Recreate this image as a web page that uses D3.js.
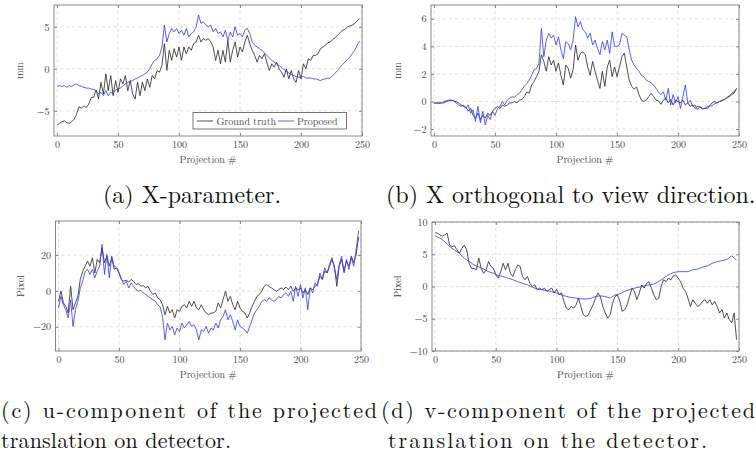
<!DOCTYPE html>
<meta charset="utf-8">
<style>
  body { margin: 0; background: #fff; }
  svg { display: block; }
  text { font-family: "Latin Modern Roman", "Liberation Serif", serif; }
  .tick text { fill: #444; font-size: 10px; font-family: "Latin Modern Roman", "Liberation Serif", serif; }
  .grid { stroke: #d6d6d6; stroke-width: 0.8; stroke-dasharray: 3,3; }
  .frame { fill: none; stroke: #888; stroke-width: 1; }
  .lbl { fill: #444; font-size: 10px; }
  .cap { fill: #111; font-size: 24px; }
  .cap.small { font-size: 22px; }
  .truth { fill: none; stroke: #222; stroke-width: 0.8; }
  .proposed { fill: none; stroke: #3434ff; stroke-width: 0.8; }
</style>
<svg width="756" height="453"></svg>
<script src="https://d3js.org/d3.v7.min.js"></script>
<script>

// projection numbers (every 2nd, and every 4th for the smooth curve)
var proj = d3.range(0, 249, 2);
var projCoarse = d3.range(0, 249, 4);
var xTicks = [0, 50, 100, 150, 200, 250];

// (a) X-parameter, mm
var aTruth = [-6.7,-6.5,-6.3,-6.2,-6.4,-6.5,-6.3,-6.0,-5.4,-4.5,
  -4.7,-4.4,-4.6,-4.2,-3.4,-3.4,-2.5,-3.6,-1.6,-3.0,
  -0.6,-2.6,-0.8,-3.2,-1.4,-2.8,-1.2,-1.8,-0.8,-2.6,
  -1.4,-3.0,-3.6,-1.6,-3.2,-1.6,-2.6,-1.2,-2.2,-0.8,
  -1.2,-0.2,-0.4,0.4,3.0,-0.2,2.2,1.0,2.4,1.4,
  2.6,1.0,2.6,1.8,2.6,2.2,3.0,3.2,4.0,3.2,
  3.6,3.4,3.6,3.2,2.6,1.0,2.2,0.6,2.2,0.8,
  3.4,0.8,2.2,3.2,1.4,2.6,2.0,3.2,4.0,3.0,
  2.2,1.6,0.8,1.6,1.2,1.8,0.8,-0.2,0.6,0.2,
  0.8,0.0,-0.4,-1.0,0.0,-1.2,-0.2,-1.2,-1.6,-0.2,
  -1.2,0.6,0.0,1.2,1.0,1.6,1.6,1.8,2.4,2.6,
  2.8,3.1,3.2,3.5,3.7,4.0,4.3,4.6,4.7,5.0,
  5.1,5.2,5.4,5.7,6.0];
var aProposed = [-2.1,-2.0,-2.1,-2.0,-2.2,-2.0,-2.1,-1.9,-1.8,-2.0,
  -2.1,-2.2,-2.3,-2.3,-2.4,-2.45,-2.6,-3.0,-2.8,-3.2,
  -2.6,-3.2,-2.8,-2.9,-2.5,-2.4,-2.3,-2.0,-1.8,-1.6,
  -1.5,-1.4,-1.2,-1.1,-0.9,-0.8,-0.6,-0.4,0.0,0.6,
  1.0,1.2,1.6,2.6,5.2,3.2,4.2,4.8,4.4,4.8,
  4.2,4.6,4.0,4.8,3.8,4.2,4.4,5.0,6.4,5.4,
  5.6,5.2,5.0,5.2,4.4,4.8,4.2,4.4,3.8,4.6,
  3.4,4.4,3.8,5.0,4.0,4.2,3.8,4.6,4.8,4.2,
  3.2,2.8,2.6,2.4,2.2,1.9,1.6,1.3,1.0,0.8,
  0.6,0.4,0.2,-0.1,-0.3,-0.5,-0.7,-0.8,-0.9,-1.0,
  -1.0,-0.9,-1.1,-1.1,-1.1,-1.2,-1.2,-1.3,-1.4,-1.25,
  -1.2,-1.1,-1.1,-0.8,-0.5,-0.2,0.2,0.5,0.8,1.1,
  1.4,1.8,2.2,2.8,3.3];

// (b) X orthogonal to view direction, mm
var bTruth = [-0.1,-0.1,-0.1,-0.1,-0.1,0,0.05,0.1,0.05,0,
  -0.1,-0.25,-0.35,-0.4,-0.7,-0.5,-1.0,-1.2,-0.85,-1.3,
  -1.0,-1.2,-0.85,-1.0,-0.7,-0.5,-0.35,-0.5,-0.25,-0.35,
  -0.25,-0.1,-0.1,0,-0.1,0.1,0.15,0.35,0.7,0.6,
  1.2,1.45,1.8,2.2,3.4,2.9,2.2,3.25,2.65,3.0,
  2.2,2.8,1.9,1.2,2.65,2.4,1.7,2.3,4.1,3.0,
  3.5,3.6,3.4,2.5,1.9,2.9,2.2,1.55,0.95,2.2,
  1.1,2.5,3.0,1.8,2.5,1.8,2.5,3.25,3.5,2.5,
  1.55,1.1,0.9,1.05,0.5,0.1,0,0.1,0.35,0.6,
  0.35,0.1,0.05,-0.2,0.1,0.25,-0.1,0.15,-0.25,0.1,
  0,-0.1,0.1,-0.25,-0.1,-0.35,-0.25,-0.5,-0.35,-0.4,
  -0.5,-0.5,-0.4,-0.3,-0.1,0,-0.1,0,0.05,0.15,
  0.25,0.35,0.5,0.6,0.95];
var bProposed = [-0.15,-0.1,-0.15,-0.1,0,0.05,0.1,0.1,0.05,-0.1,
  -0.25,-0.35,-0.25,-0.5,-0.25,-0.85,-0.6,-1.45,-0.35,-1.55,
  -0.7,-1.7,-1.0,-1.3,-0.7,-1.0,-0.5,-0.35,0,-0.25,
  0.1,0.25,0.35,0.3,0.5,0.6,0.85,1.1,1.3,1.55,
  1.9,2.3,2.4,2.75,5.3,3.25,4.45,4.95,4.6,4.8,
  4.1,4.7,3.75,3.1,4.35,4.2,3.75,4.45,6.15,5.4,
  5.8,5.2,5.05,4.6,4.95,4.1,4.45,3.85,3.4,4.35,
  3.75,4.45,3.5,5.05,4.0,4.0,4.1,4.95,4.8,4.7,
  3.75,3.0,2.65,2.4,2.2,1.9,1.8,1.55,1.45,1.35,
  1.2,0.95,0.7,0.5,0.7,0.1,0.95,-0.25,0.5,-0.1,
  0.35,-0.5,0.35,1.2,-0.1,0.1,-0.35,-0.25,-0.6,-0.35,
  -0.55,-0.5,-0.5,-0.35,-0.3,-0.15,-0.1,0,0.1,0.15,
  0.3,0.4,0.6,0.7,0.95];

// (c) u-component of projected translation, pixel
var cTruth = [-5.8,0,-6.7,-8.6,-12.3,2.6,-10.5,-6.7,-3,6.4,
  11,13.8,16.6,13.8,18.5,10,17.6,15.7,24,15.7,
  19.4,13.8,18.5,12,12.9,10,6.4,5.4,6,4.9,
  6.4,5.4,3.6,4.1,2.6,3.0,1.7,2.6,-0.2,-2,
  -1.1,-3.9,-4.9,-7.7,-13.3,-8.6,-12.3,-10.5,-15.1,-10.5,
  -11.4,-8.6,-7.7,-9.5,-5.8,-8.6,-5.8,-9.5,-10.5,-7.7,
  -10.5,-12.3,-13.3,-12.3,-12.3,-11.4,-6.7,-9.5,-4.9,-0.2,
  -5.8,-3,-7.7,-10.5,-5.8,-9.5,-11.4,-12.3,-15.1,-12.3,
  -8.6,-5.8,-3,-2,-0.2,2.6,3.6,2.6,1.7,0.7,
  -0.2,0.7,1.7,0.7,2.2,0.7,2.6,-0.2,1.7,0.7,
  1.7,-1.1,0.7,-2,1.7,0.7,2.6,3.6,8.2,6.4,
  11,10,13.8,17.6,13.8,2.6,13.8,17.6,11,16.6,
  13.8,19.4,15.7,20.4,30];
var cProposed = [-9.5,-3,-7.7,-10.5,-15.1,-5,-19.8,-10.5,-5.8,1.7,
  5.4,11,12,9.2,12,7.3,11,13.8,26,9.2,
  20.4,7.3,19.4,13.8,12.9,10,6.4,3.6,5.4,1.7,
  4.5,2.6,0.7,-0.2,0.4,-1.1,-2,-3,-3.9,-4.9,
  -5.8,-7.7,-9,-14.2,-27.3,-17.9,-21.7,-19.8,-24.5,-20.7,
  -22.6,-17.9,-20.7,-18.9,-17,-19.8,-18.9,-21.7,-27.3,-21.7,
  -22.6,-19.8,-23.6,-20.7,-21.7,-17.9,-20.7,-16.1,-14.2,-10.5,
  -16.1,-13.3,-17,-21.7,-16.1,-19.8,-20.7,-21.7,-23.6,-19.8,
  -16.1,-12.3,-10.5,-8.6,-5.8,-4.9,-5.8,-3.9,-4.9,-5.8,
  -4.9,-3,-3.9,-2,-1.1,-3,-0.2,-5.8,2.6,-3,
  3.6,-3.9,1.7,-10.5,1.7,-1.1,4.5,2.6,10,6.4,
  12.9,10,14.8,18.5,12.9,6.4,14.8,19.4,10,17.6,
  12,18.5,13.8,23.2,33.5];

// (d) v-component of projected translation, pixel
var dTruth = [8.35,8.25,8.0,7.8,8.0,8.25,6.4,6.2,6.3,5.7,
  5.15,5.9,6.4,5.7,3.6,2.8,2.8,2.6,4.4,2.8,
  2.05,2.6,3.85,3.1,2.8,1.8,1.3,2.3,3.6,2.6,
  3.6,2.05,1.55,2.6,3.35,3.1,1.55,1.05,1.55,0.5,
  0,0.25,-0.5,-0.25,-0.5,-0.25,-0.75,-0.5,-0.25,-1.0,
  -0.4,-1.3,-1.0,-2.3,-3.35,-3.6,-3.1,-3.35,-2.85,-1.8,
  -3.1,-4.4,-4.65,-4.4,-3.6,-2.85,-1.8,-1.0,-1.55,-3.1,
  -4.1,-4.9,-4.4,-2.6,-1.55,-1.3,-2.3,-3.85,-3.6,-2.85,
  -1.55,-0.25,-0.75,-2.05,-1.0,0.25,-0.25,0.5,0.75,-0.25,
  -1.3,-2.05,-1.8,0,1.05,0.75,1.3,1.05,1.65,1.8,
  1.3,0.75,-0.25,-0.75,-1.8,-3.1,-2.05,-2.6,-3.1,-2.85,
  -2.3,-2.05,-2.6,-2.05,-2.85,-2.3,-3.1,-4.1,-3.6,-4.9,
  -4.1,-5.15,-5.65,-4.1,-8.25];
var dProposed = [7.85,7.5,6.95,6.2,5.65,5.15,4.4,3.85,3.35,3.0,
  2.7,2.3,2.05,1.7,1.55,1.3,1.05,0.75,0.5,0.25,
  -0.1,-0.4,-0.5,-0.65,-0.8,-1.0,-1.3,-1.55,-1.7,-1.8,
  -1.9,-1.95,-1.85,-1.55,-1.45,-1.55,-1.8,-1.3,-1.15,-0.75,
  -0.5,-0.25,-0.1,0.1,0.25,0.4,0.75,1.3,1.8,2.15,
  2.3,2.3,2.3,2.6,2.7,3.0,3.2,3.6,3.85,4.0,
  4.2,4.75,4.1];

var svg = d3.select("svg");

function panel(p) {
  var x = d3.scaleLinear().domain([-2.5, 250]).range([p.left, p.right]);
  var y = d3.scaleLinear().domain(p.yDomain).range([p.bottom, p.top]);
  var g = svg.append("g");

  g.selectAll(".gx").data(xTicks).enter().append("line")
      .attr("class", "grid")
      .attr("x1", function(d) { return x(d); })
      .attr("x2", function(d) { return x(d); })
      .attr("y1", p.top).attr("y2", p.bottom);
  g.selectAll(".gy").data(p.yTicks).enter().append("line")
      .attr("class", "grid")
      .attr("y1", function(d) { return y(d); })
      .attr("y2", function(d) { return y(d); })
      .attr("x1", p.left).attr("x2", p.right);

  p.series.forEach(function(s) {
    var line = d3.line()
        .x(function(d, i) { return x(s.xs[i]); })
        .y(function(d) { return y(d); });
    g.append("path").datum(s.values).attr("class", s.cls).attr("d", line);
  });

  // ticks on all four sides, pointing inward
  var axes = [
    [d3.axisBottom(x).tickValues(xTicks), p.bottom, "x"],
    [d3.axisTop(x).tickValues(xTicks).tickFormat(""), p.top, "x"],
    [d3.axisLeft(y).tickValues(p.yTicks), p.left, "y"],
    [d3.axisRight(y).tickValues(p.yTicks).tickFormat(""), p.right, "y"]
  ];
  axes.forEach(function(a) {
    var ax = g.append("g")
        .attr("transform", a[2] == "x" ? "translate(0," + a[1] + ")" : "translate(" + a[1] + ",0)")
        .attr("color", "#888")
        .call(a[0].tickSize(-3).tickPadding(4.5));
    ax.attr("font-family", null);
    ax.select(".domain").remove();
  });

  g.append("rect").attr("class", "frame")
      .attr("x", p.left).attr("y", p.top)
      .attr("width", p.right - p.left).attr("height", p.bottom - p.top);

  g.append("text").attr("class", "lbl")
      .attr("x", (p.left + p.right) / 2).attr("y", p.bottom + 26.5)
      .attr("text-anchor", "middle").text("Projection #");
  g.append("text").attr("class", "lbl")
      .attr("transform", "translate(" + p.ylabelX + "," + (p.top + p.bottom) / 2 + ") rotate(-90)")
      .attr("text-anchor", "middle").attr("dy", "0.35em").text(p.ylabel);
  return g;
}

var ga = panel({left: 54, right: 362, top: 5, bottom: 136, yDomain: [-8, 7.6], yTicks: [-5, 0, 5],
  ylabel: "mm", ylabelX: 19,
  series: [{xs: proj, values: aTruth, cls: "truth"}, {xs: proj, values: aProposed, cls: "proposed"}]});

panel({left: 431, right: 739, top: 5, bottom: 136, yDomain: [-2.5, 7], yTicks: [-2, 0, 2, 4, 6],
  ylabel: "mm", ylabelX: 397,
  series: [{xs: proj, values: bTruth, cls: "truth"}, {xs: proj, values: bProposed, cls: "proposed"}]});

panel({left: 55.5, right: 361, top: 221, bottom: 351, yDomain: [-33.5, 39], yTicks: [-20, 0, 20],
  ylabel: "Pixel", ylabelX: 20,
  series: [{xs: proj, values: cTruth, cls: "truth"}, {xs: proj, values: cProposed, cls: "proposed"}]});

panel({left: 432, right: 739, top: 222, bottom: 351, yDomain: [-10, 10], yTicks: [-10, -5, 0, 5, 10],
  ylabel: "Pixel", ylabelX: 397,
  series: [{xs: proj, values: dTruth, cls: "truth"}, {xs: projCoarse, values: dProposed, cls: "proposed"}]});

// legend in (a)
var leg = ga.append("g");
leg.append("rect").attr("x", 193).attr("y", 112.5).attr("width", 153.5).attr("height", 16.5)
    .attr("fill", "#fff").attr("stroke", "#555").attr("stroke-width", 0.8);
leg.append("line").attr("class", "truth").attr("x1", 197).attr("x2", 213).attr("y1", 121).attr("y2", 121);
leg.append("text").attr("class", "lbl").attr("x", 216.5).attr("y", 124.5).text("Ground truth");
leg.append("line").attr("class", "proposed").attr("x1", 278).attr("x2", 294).attr("y1", 121).attr("y2", 121);
leg.append("text").attr("class", "lbl").attr("x", 297).attr("y", 124.5).text("Proposed");

// captions (first lines of (c) and (d) are justified)
var captions = [
  {t: "(a) X-parameter.", x: 103, y: 203, c: "cap"},
  {t: "(b) X orthogonal to view direction.", x: 386, y: 203, c: "cap"},
  {t: "(c) u-component of the projected", x: 1, y: 417.5, w: 376, c: "cap small"},
  {t: "translation on detector.", x: 1, y: 447.5, w: 230, c: "cap small"},
  {t: "(d) v-component of the projected", x: 381, y: 417.5, w: 374, c: "cap small"},
  {t: "translation on the detector.", x: 388, y: 447.5, w: 319, c: "cap small"}
];
svg.selectAll(".capt").data(captions).enter().append("text")
    .attr("class", function(d) { return d.c; })
    .attr("x", function(d) { return d.x; })
    .attr("y", function(d) { return d.y; })
    .attr("textLength", function(d) { return d.w || null; })
    .attr("lengthAdjust", "spacing")
    .text(function(d) { return d.t; });

</script>
